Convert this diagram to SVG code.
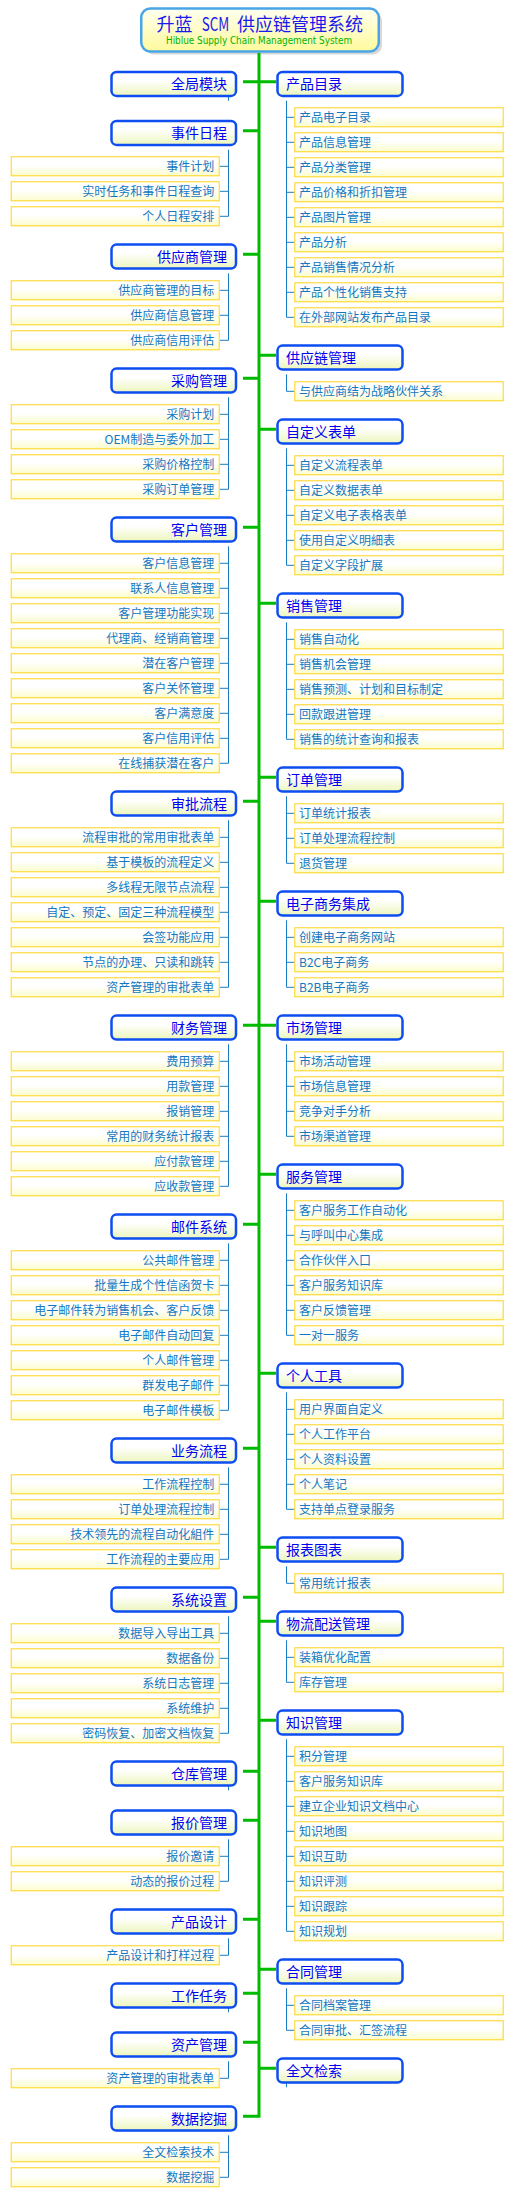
<svg xmlns="http://www.w3.org/2000/svg" width="518" height="2209" viewBox="0 0 518 2209">
<style>
.cat{fill:url(#gCat);stroke:#0d4df2;stroke-width:2.5}
.lf{fill:url(#gLeaf);stroke:#ffd21a;stroke-width:1}
.ct{font-family:"Noto Sans CJK SC","Noto Sans CJK TC",sans-serif;font-size:14px;fill:#0000f0}
.lt{font-family:"Noto Sans CJK SC","Noto Sans CJK TC",sans-serif;font-size:12px;fill:#1477bf}
.tl .lt{text-anchor:end}
.tr .lt{text-anchor:start}
.tt{font-family:"Noto Sans CJK SC",sans-serif;font-size:18px;fill:#1a1aee}
.green{fill:none;stroke:#00bb00;stroke-width:3}
.blue{fill:none;stroke:#1a7cc2;stroke-width:1}
</style>
<defs>
<linearGradient id="gCat" x1="0" y1="0" x2="0" y2="1"><stop offset="0" stop-color="#ffffff"/><stop offset="0.35" stop-color="#ffffff"/><stop offset="1" stop-color="#ecf6bc"/></linearGradient>
<linearGradient id="gLeaf" x1="0" y1="0" x2="0" y2="1"><stop offset="0" stop-color="#ffffff"/><stop offset="0.45" stop-color="#ffffff"/><stop offset="1" stop-color="#fdfdcc"/></linearGradient>
<linearGradient id="gRoot" x1="0" y1="0" x2="0" y2="1"><stop offset="0" stop-color="#fffff0"/><stop offset="1" stop-color="#fffa9c"/></linearGradient>
</defs>
<rect width="518" height="2209" fill="#ffffff"/>

<g id="root">
<rect x="144.5" y="11.5" width="237.5" height="43" rx="9" fill="#c8c8c8" opacity="0.7"/>
<rect x="141.25" y="8.5" width="237.5" height="43" rx="9" fill="url(#gRoot)" stroke="#48a6e6" stroke-width="2.5"/>
<text class="tt" y="30.5"><tspan x="156.5">升蓝</tspan><tspan x="201.7" textLength="27.6" lengthAdjust="spacingAndGlyphs">SCM</tspan><tspan x="237">供应链管理系统</tspan></text>
<text x="259" y="43.5" text-anchor="middle" font-family="'DejaVu Sans',sans-serif" font-size="10" fill="#00b400" textLength="186" lengthAdjust="spacingAndGlyphs">Hiblue Supply Chain Management System</text>
</g>

<g id="connectors">
<path class="green" d="M259,53V2117.8 M243,81.7H276 M243,130.7H259 M243,254.3H259 M243,378.3H259 M243,527.3H259 M243,801.3H259 M243,1025.3H276 M243,1224.3H259 M243,1448.3H259 M243,1597.3H259 M243,1771.3H259 M243,1820.3H259 M243,1919.3H259 M243,1993.3H259 M243,2042.3H259 M243,2116.3H259 M259,355.3H276 M259,429.3H276 M259,603.3H276 M259,777.3H276 M259,901.3H276 M259,1174.3H276 M259,1373.3H276 M259,1547.3H276 M259,1621.3H276 M259,1720.3H276 M259,1969.3H276 M259,2068.3H276"/>
<path class="blue" d="M228.5,93.7V100.7 M228.5,1783.3V1790.3 M228.5,2005.3V2012.3 M286.5,2080.3V2087.3
M228.5,149.7V216.3 M219.7,166.3H228.5 M219.7,191.3H228.5 M219.7,216.3H228.5
M228.5,273.3V340.3 M219.7,290.3H228.5 M219.7,315.3H228.5 M219.7,340.3H228.5
M228.5,397.3V489.3 M219.7,414.3H228.5 M219.7,439.3H228.5 M219.7,464.3H228.5 M219.7,489.3H228.5
M228.5,546.3V763.3 M219.7,563.3H228.5 M219.7,588.3H228.5 M219.7,613.3H228.5 M219.7,638.3H228.5 M219.7,663.3H228.5 M219.7,688.3H228.5 M219.7,713.3H228.5 M219.7,738.3H228.5 M219.7,763.3H228.5
M228.5,820.3V987.3 M219.7,837.3H228.5 M219.7,862.3H228.5 M219.7,887.3H228.5 M219.7,912.3H228.5 M219.7,937.3H228.5 M219.7,962.3H228.5 M219.7,987.3H228.5
M228.5,1044.3V1186.3 M219.7,1061.3H228.5 M219.7,1086.3H228.5 M219.7,1111.3H228.5 M219.7,1136.3H228.5 M219.7,1161.3H228.5 M219.7,1186.3H228.5
M228.5,1243.3V1410.3 M219.7,1260.3H228.5 M219.7,1285.3H228.5 M219.7,1310.3H228.5 M219.7,1335.3H228.5 M219.7,1360.3H228.5 M219.7,1385.3H228.5 M219.7,1410.3H228.5
M228.5,1467.3V1559.3 M219.7,1484.3H228.5 M219.7,1509.3H228.5 M219.7,1534.3H228.5 M219.7,1559.3H228.5
M228.5,1616.3V1733.3 M219.7,1633.3H228.5 M219.7,1658.3H228.5 M219.7,1683.3H228.5 M219.7,1708.3H228.5 M219.7,1733.3H228.5
M228.5,1839.3V1881.3 M219.7,1856.3H228.5 M219.7,1881.3H228.5
M228.5,1938.3V1955.3 M219.7,1955.3H228.5
M228.5,2061.3V2078.3 M219.7,2078.3H228.5
M228.5,2135.3V2177.3 M219.7,2152.3H228.5 M219.7,2177.3H228.5
M286.5,100.7V317.3 M286.5,117.3H294.3 M286.5,142.3H294.3 M286.5,167.3H294.3 M286.5,192.3H294.3 M286.5,217.3H294.3 M286.5,242.3H294.3 M286.5,267.3H294.3 M286.5,292.3H294.3 M286.5,317.3H294.3
M286.5,374.3V391.3 M286.5,391.3H294.3
M286.5,448.3V565.3 M286.5,465.3H294.3 M286.5,490.3H294.3 M286.5,515.3H294.3 M286.5,540.3H294.3 M286.5,565.3H294.3
M286.5,622.3V739.3 M286.5,639.3H294.3 M286.5,664.3H294.3 M286.5,689.3H294.3 M286.5,714.3H294.3 M286.5,739.3H294.3
M286.5,796.3V863.3 M286.5,813.3H294.3 M286.5,838.3H294.3 M286.5,863.3H294.3
M286.5,920.3V987.3 M286.5,937.3H294.3 M286.5,962.3H294.3 M286.5,987.3H294.3
M286.5,1044.3V1136.3 M286.5,1061.3H294.3 M286.5,1086.3H294.3 M286.5,1111.3H294.3 M286.5,1136.3H294.3
M286.5,1193.3V1335.3 M286.5,1210.3H294.3 M286.5,1235.3H294.3 M286.5,1260.3H294.3 M286.5,1285.3H294.3 M286.5,1310.3H294.3 M286.5,1335.3H294.3
M286.5,1392.3V1509.3 M286.5,1409.3H294.3 M286.5,1434.3H294.3 M286.5,1459.3H294.3 M286.5,1484.3H294.3 M286.5,1509.3H294.3
M286.5,1566.3V1583.3 M286.5,1583.3H294.3
M286.5,1640.3V1682.3 M286.5,1657.3H294.3 M286.5,1682.3H294.3
M286.5,1739.3V1931.3 M286.5,1756.3H294.3 M286.5,1781.3H294.3 M286.5,1806.3H294.3 M286.5,1831.3H294.3 M286.5,1856.3H294.3 M286.5,1881.3H294.3 M286.5,1906.3H294.3 M286.5,1931.3H294.3
M286.5,1988.3V2030.3 M286.5,2005.3H294.3 M286.5,2030.3H294.3"/>
</g>

<!-- left categories -->
<g id="c-l01" transform="translate(0,70.7)"><rect class="cat" x="111.5" y="1.25" width="124.5" height="24" rx="5"/><text class="ct" x="227" y="18.3" text-anchor="end">全局模块</text></g>
<g id="c-l02" transform="translate(0,119.7)"><rect class="cat" x="111.5" y="1.25" width="124.5" height="24" rx="5"/><text class="ct" x="227" y="18.3" text-anchor="end">事件日程</text></g>
<g id="c-l03" transform="translate(0,243.3)"><rect class="cat" x="111.5" y="1.25" width="124.5" height="24" rx="5"/><text class="ct" x="227" y="18.3" text-anchor="end">供应商管理</text></g>
<g id="c-l04" transform="translate(0,367.3)"><rect class="cat" x="111.5" y="1.25" width="124.5" height="24" rx="5"/><text class="ct" x="227" y="18.3" text-anchor="end">采购管理</text></g>
<g id="c-l05" transform="translate(0,516.3)"><rect class="cat" x="111.5" y="1.25" width="124.5" height="24" rx="5"/><text class="ct" x="227" y="18.3" text-anchor="end">客户管理</text></g>
<g id="c-l06" transform="translate(0,790.3)"><rect class="cat" x="111.5" y="1.25" width="124.5" height="24" rx="5"/><text class="ct" x="227" y="18.3" text-anchor="end">审批流程</text></g>
<g id="c-l07" transform="translate(0,1014.3)"><rect class="cat" x="111.5" y="1.25" width="124.5" height="24" rx="5"/><text class="ct" x="227" y="18.3" text-anchor="end">财务管理</text></g>
<g id="c-l08" transform="translate(0,1213.3)"><rect class="cat" x="111.5" y="1.25" width="124.5" height="24" rx="5"/><text class="ct" x="227" y="18.3" text-anchor="end">邮件系统</text></g>
<g id="c-l09" transform="translate(0,1437.3)"><rect class="cat" x="111.5" y="1.25" width="124.5" height="24" rx="5"/><text class="ct" x="227" y="18.3" text-anchor="end">业务流程</text></g>
<g id="c-l10" transform="translate(0,1586.3)"><rect class="cat" x="111.5" y="1.25" width="124.5" height="24" rx="5"/><text class="ct" x="227" y="18.3" text-anchor="end">系统设置</text></g>
<g id="c-l11" transform="translate(0,1760.3)"><rect class="cat" x="111.5" y="1.25" width="124.5" height="24" rx="5"/><text class="ct" x="227" y="18.3" text-anchor="end">仓库管理</text></g>
<g id="c-l12" transform="translate(0,1809.3)"><rect class="cat" x="111.5" y="1.25" width="124.5" height="24" rx="5"/><text class="ct" x="227" y="18.3" text-anchor="end">报价管理</text></g>
<g id="c-l13" transform="translate(0,1908.3)"><rect class="cat" x="111.5" y="1.25" width="124.5" height="24" rx="5"/><text class="ct" x="227" y="18.3" text-anchor="end">产品设计</text></g>
<g id="c-l14" transform="translate(0,1982.3)"><rect class="cat" x="111.5" y="1.25" width="124.5" height="24" rx="5"/><text class="ct" x="227" y="18.3" text-anchor="end">工作任务</text></g>
<g id="c-l15" transform="translate(0,2031.3)"><rect class="cat" x="111.5" y="1.25" width="124.5" height="24" rx="5"/><text class="ct" x="227" y="18.3" text-anchor="end">资产管理</text></g>
<g id="c-l16" transform="translate(0,2105.3)"><rect class="cat" x="111.5" y="1.25" width="124.5" height="24" rx="5"/><text class="ct" x="227" y="18.3" text-anchor="end">数据挖掘</text></g>

<!-- right categories -->
<g id="c-r01" transform="translate(0,70.7)"><rect class="cat" x="277.5" y="1.25" width="125" height="24" rx="5"/><text class="ct" x="286" y="18.3">产品目录</text></g>
<g id="c-r02" transform="translate(0,344.3)"><rect class="cat" x="277.5" y="1.25" width="125" height="24" rx="5"/><text class="ct" x="286" y="18.3">供应链管理</text></g>
<g id="c-r03" transform="translate(0,418.3)"><rect class="cat" x="277.5" y="1.25" width="125" height="24" rx="5"/><text class="ct" x="286" y="18.3">自定义表单</text></g>
<g id="c-r04" transform="translate(0,592.3)"><rect class="cat" x="277.5" y="1.25" width="125" height="24" rx="5"/><text class="ct" x="286" y="18.3">销售管理</text></g>
<g id="c-r05" transform="translate(0,766.3)"><rect class="cat" x="277.5" y="1.25" width="125" height="24" rx="5"/><text class="ct" x="286" y="18.3">订单管理</text></g>
<g id="c-r06" transform="translate(0,890.3)"><rect class="cat" x="277.5" y="1.25" width="125" height="24" rx="5"/><text class="ct" x="286" y="18.3">电子商务集成</text></g>
<g id="c-r07" transform="translate(0,1014.3)"><rect class="cat" x="277.5" y="1.25" width="125" height="24" rx="5"/><text class="ct" x="286" y="18.3">市场管理</text></g>
<g id="c-r08" transform="translate(0,1163.3)"><rect class="cat" x="277.5" y="1.25" width="125" height="24" rx="5"/><text class="ct" x="286" y="18.3">服务管理</text></g>
<g id="c-r09" transform="translate(0,1362.3)"><rect class="cat" x="277.5" y="1.25" width="125" height="24" rx="5"/><text class="ct" x="286" y="18.3">个人工具</text></g>
<g id="c-r10" transform="translate(0,1536.3)"><rect class="cat" x="277.5" y="1.25" width="125" height="24" rx="5"/><text class="ct" x="286" y="18.3">报表图表</text></g>
<g id="c-r11" transform="translate(0,1610.3)"><rect class="cat" x="277.5" y="1.25" width="125" height="24" rx="5"/><text class="ct" x="286" y="18.3">物流配送管理</text></g>
<g id="c-r12" transform="translate(0,1709.3)"><rect class="cat" x="277.5" y="1.25" width="125" height="24" rx="5"/><text class="ct" x="286" y="18.3">知识管理</text></g>
<g id="c-r13" transform="translate(0,1958.3)"><rect class="cat" x="277.5" y="1.25" width="125" height="24" rx="5"/><text class="ct" x="286" y="18.3">合同管理</text></g>
<g id="c-r14" transform="translate(0,2057.3)"><rect class="cat" x="277.5" y="1.25" width="125" height="24" rx="5"/><text class="ct" x="286" y="18.3">全文检索</text></g>

<!-- left leaves -->
<g class="tl">
<g id="l02-1" transform="translate(0,156.3)"><rect class="lf" x="11.2" y="0.5" width="208" height="19"/><text class="lt" x="214.3" y="14.5">事件计划</text></g>
<g id="l02-2" transform="translate(0,181.3)"><rect class="lf" x="11.2" y="0.5" width="208" height="19"/><text class="lt" x="214.3" y="14.5">实时任务和事件日程查询</text></g>
<g id="l02-3" transform="translate(0,206.3)"><rect class="lf" x="11.2" y="0.5" width="208" height="19"/><text class="lt" x="214.3" y="14.5">个人日程安排</text></g>
<g id="l03-1" transform="translate(0,280.3)"><rect class="lf" x="11.2" y="0.5" width="208" height="19"/><text class="lt" x="214.3" y="14.5">供应商管理的目标</text></g>
<g id="l03-2" transform="translate(0,305.3)"><rect class="lf" x="11.2" y="0.5" width="208" height="19"/><text class="lt" x="214.3" y="14.5">供应商信息管理</text></g>
<g id="l03-3" transform="translate(0,330.3)"><rect class="lf" x="11.2" y="0.5" width="208" height="19"/><text class="lt" x="214.3" y="14.5">供应商信用评估</text></g>
<g id="l04-1" transform="translate(0,404.3)"><rect class="lf" x="11.2" y="0.5" width="208" height="19"/><text class="lt" x="214.3" y="14.5">采购计划</text></g>
<g id="l04-2" transform="translate(0,429.3)"><rect class="lf" x="11.2" y="0.5" width="208" height="19"/><text class="lt" x="214.3" y="14.5">OEM制造与委外加工</text></g>
<g id="l04-3" transform="translate(0,454.3)"><rect class="lf" x="11.2" y="0.5" width="208" height="19"/><text class="lt" x="214.3" y="14.5">采购价格控制</text></g>
<g id="l04-4" transform="translate(0,479.3)"><rect class="lf" x="11.2" y="0.5" width="208" height="19"/><text class="lt" x="214.3" y="14.5">采购订单管理</text></g>
<g id="l05-1" transform="translate(0,553.3)"><rect class="lf" x="11.2" y="0.5" width="208" height="19"/><text class="lt" x="214.3" y="14.5">客户信息管理</text></g>
<g id="l05-2" transform="translate(0,578.3)"><rect class="lf" x="11.2" y="0.5" width="208" height="19"/><text class="lt" x="214.3" y="14.5">联系人信息管理</text></g>
<g id="l05-3" transform="translate(0,603.3)"><rect class="lf" x="11.2" y="0.5" width="208" height="19"/><text class="lt" x="214.3" y="14.5">客户管理功能实现</text></g>
<g id="l05-4" transform="translate(0,628.3)"><rect class="lf" x="11.2" y="0.5" width="208" height="19"/><text class="lt" x="214.3" y="14.5">代理商、经销商管理</text></g>
<g id="l05-5" transform="translate(0,653.3)"><rect class="lf" x="11.2" y="0.5" width="208" height="19"/><text class="lt" x="214.3" y="14.5">潜在客户管理</text></g>
<g id="l05-6" transform="translate(0,678.3)"><rect class="lf" x="11.2" y="0.5" width="208" height="19"/><text class="lt" x="214.3" y="14.5">客户关怀管理</text></g>
<g id="l05-7" transform="translate(0,703.3)"><rect class="lf" x="11.2" y="0.5" width="208" height="19"/><text class="lt" x="214.3" y="14.5">客户满意度</text></g>
<g id="l05-8" transform="translate(0,728.3)"><rect class="lf" x="11.2" y="0.5" width="208" height="19"/><text class="lt" x="214.3" y="14.5">客户信用评估</text></g>
<g id="l05-9" transform="translate(0,753.3)"><rect class="lf" x="11.2" y="0.5" width="208" height="19"/><text class="lt" x="214.3" y="14.5">在线捕获潜在客户</text></g>
<g id="l06-1" transform="translate(0,827.3)"><rect class="lf" x="11.2" y="0.5" width="208" height="19"/><text class="lt" x="214.3" y="14.5">流程审批的常用审批表单</text></g>
<g id="l06-2" transform="translate(0,852.3)"><rect class="lf" x="11.2" y="0.5" width="208" height="19"/><text class="lt" x="214.3" y="14.5">基于模板的流程定义</text></g>
<g id="l06-3" transform="translate(0,877.3)"><rect class="lf" x="11.2" y="0.5" width="208" height="19"/><text class="lt" x="214.3" y="14.5">多线程无限节点流程</text></g>
<g id="l06-4" transform="translate(0,902.3)"><rect class="lf" x="11.2" y="0.5" width="208" height="19"/><text class="lt" x="214.3" y="14.5">自定、预定、固定三种流程模型</text></g>
<g id="l06-5" transform="translate(0,927.3)"><rect class="lf" x="11.2" y="0.5" width="208" height="19"/><text class="lt" x="214.3" y="14.5">会签功能应用</text></g>
<g id="l06-6" transform="translate(0,952.3)"><rect class="lf" x="11.2" y="0.5" width="208" height="19"/><text class="lt" x="214.3" y="14.5">节点的办理、只读和跳转</text></g>
<g id="l06-7" transform="translate(0,977.3)"><rect class="lf" x="11.2" y="0.5" width="208" height="19"/><text class="lt" x="214.3" y="14.5">资产管理的审批表单</text></g>
<g id="l07-1" transform="translate(0,1051.3)"><rect class="lf" x="11.2" y="0.5" width="208" height="19"/><text class="lt" x="214.3" y="14.5">费用预算</text></g>
<g id="l07-2" transform="translate(0,1076.3)"><rect class="lf" x="11.2" y="0.5" width="208" height="19"/><text class="lt" x="214.3" y="14.5">用款管理</text></g>
<g id="l07-3" transform="translate(0,1101.3)"><rect class="lf" x="11.2" y="0.5" width="208" height="19"/><text class="lt" x="214.3" y="14.5">报销管理</text></g>
<g id="l07-4" transform="translate(0,1126.3)"><rect class="lf" x="11.2" y="0.5" width="208" height="19"/><text class="lt" x="214.3" y="14.5">常用的财务统计报表</text></g>
<g id="l07-5" transform="translate(0,1151.3)"><rect class="lf" x="11.2" y="0.5" width="208" height="19"/><text class="lt" x="214.3" y="14.5">应付款管理</text></g>
<g id="l07-6" transform="translate(0,1176.3)"><rect class="lf" x="11.2" y="0.5" width="208" height="19"/><text class="lt" x="214.3" y="14.5">应收款管理</text></g>
<g id="l08-1" transform="translate(0,1250.3)"><rect class="lf" x="11.2" y="0.5" width="208" height="19"/><text class="lt" x="214.3" y="14.5">公共邮件管理</text></g>
<g id="l08-2" transform="translate(0,1275.3)"><rect class="lf" x="11.2" y="0.5" width="208" height="19"/><text class="lt" x="214.3" y="14.5">批量生成个性信函贺卡</text></g>
<g id="l08-3" transform="translate(0,1300.3)"><rect class="lf" x="11.2" y="0.5" width="208" height="19"/><text class="lt" x="214.3" y="14.5">电子邮件转为销售机会、客户反馈</text></g>
<g id="l08-4" transform="translate(0,1325.3)"><rect class="lf" x="11.2" y="0.5" width="208" height="19"/><text class="lt" x="214.3" y="14.5">电子邮件自动回复</text></g>
<g id="l08-5" transform="translate(0,1350.3)"><rect class="lf" x="11.2" y="0.5" width="208" height="19"/><text class="lt" x="214.3" y="14.5">个人邮件管理</text></g>
<g id="l08-6" transform="translate(0,1375.3)"><rect class="lf" x="11.2" y="0.5" width="208" height="19"/><text class="lt" x="214.3" y="14.5">群发电子邮件</text></g>
<g id="l08-7" transform="translate(0,1400.3)"><rect class="lf" x="11.2" y="0.5" width="208" height="19"/><text class="lt" x="214.3" y="14.5">电子邮件模板</text></g>
<g id="l09-1" transform="translate(0,1474.3)"><rect class="lf" x="11.2" y="0.5" width="208" height="19"/><text class="lt" x="214.3" y="14.5">工作流程控制</text></g>
<g id="l09-2" transform="translate(0,1499.3)"><rect class="lf" x="11.2" y="0.5" width="208" height="19"/><text class="lt" x="214.3" y="14.5">订单处理流程控制</text></g>
<g id="l09-3" transform="translate(0,1524.3)"><rect class="lf" x="11.2" y="0.5" width="208" height="19"/><text class="lt" x="214.3" y="14.5">技术领先的流程自动化組件</text></g>
<g id="l09-4" transform="translate(0,1549.3)"><rect class="lf" x="11.2" y="0.5" width="208" height="19"/><text class="lt" x="214.3" y="14.5">工作流程的主要应用</text></g>
<g id="l10-1" transform="translate(0,1623.3)"><rect class="lf" x="11.2" y="0.5" width="208" height="19"/><text class="lt" x="214.3" y="14.5">数据导入导出工具</text></g>
<g id="l10-2" transform="translate(0,1648.3)"><rect class="lf" x="11.2" y="0.5" width="208" height="19"/><text class="lt" x="214.3" y="14.5">数据备份</text></g>
<g id="l10-3" transform="translate(0,1673.3)"><rect class="lf" x="11.2" y="0.5" width="208" height="19"/><text class="lt" x="214.3" y="14.5">系统日志管理</text></g>
<g id="l10-4" transform="translate(0,1698.3)"><rect class="lf" x="11.2" y="0.5" width="208" height="19"/><text class="lt" x="214.3" y="14.5">系统维护</text></g>
<g id="l10-5" transform="translate(0,1723.3)"><rect class="lf" x="11.2" y="0.5" width="208" height="19"/><text class="lt" x="214.3" y="14.5">密码恢复、加密文档恢复</text></g>
<g id="l12-1" transform="translate(0,1846.3)"><rect class="lf" x="11.2" y="0.5" width="208" height="19"/><text class="lt" x="214.3" y="14.5">报价邀请</text></g>
<g id="l12-2" transform="translate(0,1871.3)"><rect class="lf" x="11.2" y="0.5" width="208" height="19"/><text class="lt" x="214.3" y="14.5">动态的报价过程</text></g>
<g id="l13-1" transform="translate(0,1945.3)"><rect class="lf" x="11.2" y="0.5" width="208" height="19"/><text class="lt" x="214.3" y="14.5">产品设计和打样过程</text></g>
<g id="l15-1" transform="translate(0,2068.3)"><rect class="lf" x="11.2" y="0.5" width="208" height="19"/><text class="lt" x="214.3" y="14.5">资产管理的审批表单</text></g>
<g id="l16-1" transform="translate(0,2142.3)"><rect class="lf" x="11.2" y="0.5" width="208" height="19"/><text class="lt" x="214.3" y="14.5">全文检索技术</text></g>
<g id="l16-2" transform="translate(0,2167.3)"><rect class="lf" x="11.2" y="0.5" width="208" height="19"/><text class="lt" x="214.3" y="14.5">数据挖掘</text></g>
</g>

<!-- right leaves -->
<g class="tr">
<g id="r01-1" transform="translate(0,107.3)"><rect class="lf" x="294.8" y="0.5" width="208.4" height="19"/><text class="lt" x="299" y="14.5">产品电子目录</text></g>
<g id="r01-2" transform="translate(0,132.3)"><rect class="lf" x="294.8" y="0.5" width="208.4" height="19"/><text class="lt" x="299" y="14.5">产品信息管理</text></g>
<g id="r01-3" transform="translate(0,157.3)"><rect class="lf" x="294.8" y="0.5" width="208.4" height="19"/><text class="lt" x="299" y="14.5">产品分类管理</text></g>
<g id="r01-4" transform="translate(0,182.3)"><rect class="lf" x="294.8" y="0.5" width="208.4" height="19"/><text class="lt" x="299" y="14.5">产品价格和折扣管理</text></g>
<g id="r01-5" transform="translate(0,207.3)"><rect class="lf" x="294.8" y="0.5" width="208.4" height="19"/><text class="lt" x="299" y="14.5">产品图片管理</text></g>
<g id="r01-6" transform="translate(0,232.3)"><rect class="lf" x="294.8" y="0.5" width="208.4" height="19"/><text class="lt" x="299" y="14.5">产品分析</text></g>
<g id="r01-7" transform="translate(0,257.3)"><rect class="lf" x="294.8" y="0.5" width="208.4" height="19"/><text class="lt" x="299" y="14.5">产品销售情况分析</text></g>
<g id="r01-8" transform="translate(0,282.3)"><rect class="lf" x="294.8" y="0.5" width="208.4" height="19"/><text class="lt" x="299" y="14.5">产品个性化销售支持</text></g>
<g id="r01-9" transform="translate(0,307.3)"><rect class="lf" x="294.8" y="0.5" width="208.4" height="19"/><text class="lt" x="299" y="14.5">在外部网站发布产品目录</text></g>
<g id="r02-1" transform="translate(0,381.3)"><rect class="lf" x="294.8" y="0.5" width="208.4" height="19"/><text class="lt" x="299" y="14.5">与供应商结为战略伙伴关系</text></g>
<g id="r03-1" transform="translate(0,455.3)"><rect class="lf" x="294.8" y="0.5" width="208.4" height="19"/><text class="lt" x="299" y="14.5">自定义流程表单</text></g>
<g id="r03-2" transform="translate(0,480.3)"><rect class="lf" x="294.8" y="0.5" width="208.4" height="19"/><text class="lt" x="299" y="14.5">自定义数据表单</text></g>
<g id="r03-3" transform="translate(0,505.3)"><rect class="lf" x="294.8" y="0.5" width="208.4" height="19"/><text class="lt" x="299" y="14.5">自定义电子表格表单</text></g>
<g id="r03-4" transform="translate(0,530.3)"><rect class="lf" x="294.8" y="0.5" width="208.4" height="19"/><text class="lt" x="299" y="14.5">使用自定义明細表</text></g>
<g id="r03-5" transform="translate(0,555.3)"><rect class="lf" x="294.8" y="0.5" width="208.4" height="19"/><text class="lt" x="299" y="14.5">自定义字段扩展</text></g>
<g id="r04-1" transform="translate(0,629.3)"><rect class="lf" x="294.8" y="0.5" width="208.4" height="19"/><text class="lt" x="299" y="14.5">销售自动化</text></g>
<g id="r04-2" transform="translate(0,654.3)"><rect class="lf" x="294.8" y="0.5" width="208.4" height="19"/><text class="lt" x="299" y="14.5">销售机会管理</text></g>
<g id="r04-3" transform="translate(0,679.3)"><rect class="lf" x="294.8" y="0.5" width="208.4" height="19"/><text class="lt" x="299" y="14.5">销售预测、计划和目标制定</text></g>
<g id="r04-4" transform="translate(0,704.3)"><rect class="lf" x="294.8" y="0.5" width="208.4" height="19"/><text class="lt" x="299" y="14.5">回款跟进管理</text></g>
<g id="r04-5" transform="translate(0,729.3)"><rect class="lf" x="294.8" y="0.5" width="208.4" height="19"/><text class="lt" x="299" y="14.5">销售的统计查询和报表</text></g>
<g id="r05-1" transform="translate(0,803.3)"><rect class="lf" x="294.8" y="0.5" width="208.4" height="19"/><text class="lt" x="299" y="14.5">订单统计报表</text></g>
<g id="r05-2" transform="translate(0,828.3)"><rect class="lf" x="294.8" y="0.5" width="208.4" height="19"/><text class="lt" x="299" y="14.5">订单处理流程控制</text></g>
<g id="r05-3" transform="translate(0,853.3)"><rect class="lf" x="294.8" y="0.5" width="208.4" height="19"/><text class="lt" x="299" y="14.5">退货管理</text></g>
<g id="r06-1" transform="translate(0,927.3)"><rect class="lf" x="294.8" y="0.5" width="208.4" height="19"/><text class="lt" x="299" y="14.5">创建电子商务网站</text></g>
<g id="r06-2" transform="translate(0,952.3)"><rect class="lf" x="294.8" y="0.5" width="208.4" height="19"/><text class="lt" x="299" y="14.5">B2C电子商务</text></g>
<g id="r06-3" transform="translate(0,977.3)"><rect class="lf" x="294.8" y="0.5" width="208.4" height="19"/><text class="lt" x="299" y="14.5">B2B电子商务</text></g>
<g id="r07-1" transform="translate(0,1051.3)"><rect class="lf" x="294.8" y="0.5" width="208.4" height="19"/><text class="lt" x="299" y="14.5">市场活动管理</text></g>
<g id="r07-2" transform="translate(0,1076.3)"><rect class="lf" x="294.8" y="0.5" width="208.4" height="19"/><text class="lt" x="299" y="14.5">市场信息管理</text></g>
<g id="r07-3" transform="translate(0,1101.3)"><rect class="lf" x="294.8" y="0.5" width="208.4" height="19"/><text class="lt" x="299" y="14.5">竞争对手分析</text></g>
<g id="r07-4" transform="translate(0,1126.3)"><rect class="lf" x="294.8" y="0.5" width="208.4" height="19"/><text class="lt" x="299" y="14.5">市场渠道管理</text></g>
<g id="r08-1" transform="translate(0,1200.3)"><rect class="lf" x="294.8" y="0.5" width="208.4" height="19"/><text class="lt" x="299" y="14.5">客户服务工作自动化</text></g>
<g id="r08-2" transform="translate(0,1225.3)"><rect class="lf" x="294.8" y="0.5" width="208.4" height="19"/><text class="lt" x="299" y="14.5">与呼叫中心集成</text></g>
<g id="r08-3" transform="translate(0,1250.3)"><rect class="lf" x="294.8" y="0.5" width="208.4" height="19"/><text class="lt" x="299" y="14.5">合作伙伴入口</text></g>
<g id="r08-4" transform="translate(0,1275.3)"><rect class="lf" x="294.8" y="0.5" width="208.4" height="19"/><text class="lt" x="299" y="14.5">客户服务知识库</text></g>
<g id="r08-5" transform="translate(0,1300.3)"><rect class="lf" x="294.8" y="0.5" width="208.4" height="19"/><text class="lt" x="299" y="14.5">客户反馈管理</text></g>
<g id="r08-6" transform="translate(0,1325.3)"><rect class="lf" x="294.8" y="0.5" width="208.4" height="19"/><text class="lt" x="299" y="14.5">一对一服务</text></g>
<g id="r09-1" transform="translate(0,1399.3)"><rect class="lf" x="294.8" y="0.5" width="208.4" height="19"/><text class="lt" x="299" y="14.5">用户界面自定义</text></g>
<g id="r09-2" transform="translate(0,1424.3)"><rect class="lf" x="294.8" y="0.5" width="208.4" height="19"/><text class="lt" x="299" y="14.5">个人工作平台</text></g>
<g id="r09-3" transform="translate(0,1449.3)"><rect class="lf" x="294.8" y="0.5" width="208.4" height="19"/><text class="lt" x="299" y="14.5">个人资料设置</text></g>
<g id="r09-4" transform="translate(0,1474.3)"><rect class="lf" x="294.8" y="0.5" width="208.4" height="19"/><text class="lt" x="299" y="14.5">个人笔记</text></g>
<g id="r09-5" transform="translate(0,1499.3)"><rect class="lf" x="294.8" y="0.5" width="208.4" height="19"/><text class="lt" x="299" y="14.5">支持单点登录服务</text></g>
<g id="r10-1" transform="translate(0,1573.3)"><rect class="lf" x="294.8" y="0.5" width="208.4" height="19"/><text class="lt" x="299" y="14.5">常用统计报表</text></g>
<g id="r11-1" transform="translate(0,1647.3)"><rect class="lf" x="294.8" y="0.5" width="208.4" height="19"/><text class="lt" x="299" y="14.5">装箱优化配置</text></g>
<g id="r11-2" transform="translate(0,1672.3)"><rect class="lf" x="294.8" y="0.5" width="208.4" height="19"/><text class="lt" x="299" y="14.5">库存管理</text></g>
<g id="r12-1" transform="translate(0,1746.3)"><rect class="lf" x="294.8" y="0.5" width="208.4" height="19"/><text class="lt" x="299" y="14.5">积分管理</text></g>
<g id="r12-2" transform="translate(0,1771.3)"><rect class="lf" x="294.8" y="0.5" width="208.4" height="19"/><text class="lt" x="299" y="14.5">客户服务知识库</text></g>
<g id="r12-3" transform="translate(0,1796.3)"><rect class="lf" x="294.8" y="0.5" width="208.4" height="19"/><text class="lt" x="299" y="14.5">建立企业知识文档中心</text></g>
<g id="r12-4" transform="translate(0,1821.3)"><rect class="lf" x="294.8" y="0.5" width="208.4" height="19"/><text class="lt" x="299" y="14.5">知识地图</text></g>
<g id="r12-5" transform="translate(0,1846.3)"><rect class="lf" x="294.8" y="0.5" width="208.4" height="19"/><text class="lt" x="299" y="14.5">知识互助</text></g>
<g id="r12-6" transform="translate(0,1871.3)"><rect class="lf" x="294.8" y="0.5" width="208.4" height="19"/><text class="lt" x="299" y="14.5">知识评测</text></g>
<g id="r12-7" transform="translate(0,1896.3)"><rect class="lf" x="294.8" y="0.5" width="208.4" height="19"/><text class="lt" x="299" y="14.5">知识跟踪</text></g>
<g id="r12-8" transform="translate(0,1921.3)"><rect class="lf" x="294.8" y="0.5" width="208.4" height="19"/><text class="lt" x="299" y="14.5">知识规划</text></g>
<g id="r13-1" transform="translate(0,1995.3)"><rect class="lf" x="294.8" y="0.5" width="208.4" height="19"/><text class="lt" x="299" y="14.5">合同档案管理</text></g>
<g id="r13-2" transform="translate(0,2020.3)"><rect class="lf" x="294.8" y="0.5" width="208.4" height="19"/><text class="lt" x="299" y="14.5">合同审批、汇签流程</text></g>
</g>
</svg>
